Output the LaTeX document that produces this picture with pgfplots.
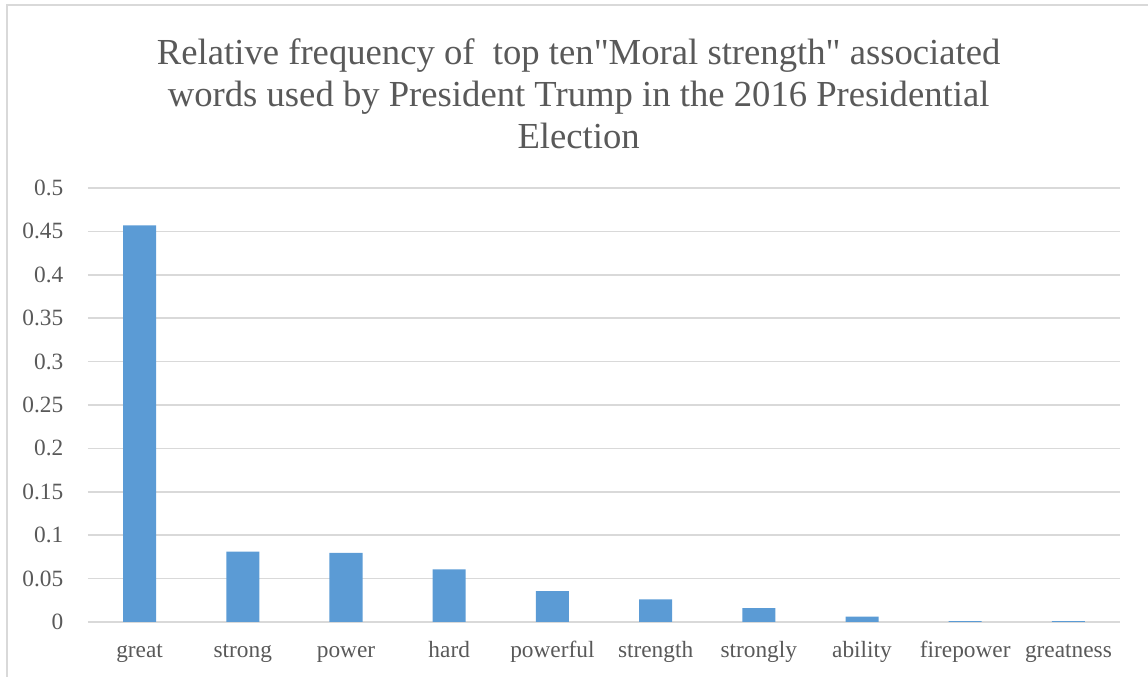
\documentclass[border=0pt]{standalone}
\usepackage{fontspec}
\setmainfont{Liberation Serif}
\usepackage{pgfplots}
\pgfplotsset{compat=1.18}
\definecolor{barblue}{HTML}{5B9BD5}
\definecolor{txtgray}{HTML}{595959}
\definecolor{gridgray}{HTML}{D9D9D9}
\newcommand{\sq}{{\fontspec{Liberation Serif}\symbol{34}}}
\begin{document}
\begin{tikzpicture}
\path[use as bounding box] (-66pt,-41.25pt) rectangle (795pt,466.5pt);
\draw[gridgray, line width=1.2pt] (-60.75pt,-41.25pt) -- (-60.75pt,462.75pt) -- (795pt,462.75pt);
\begin{axis}[
  at={(0,0)}, anchor=south west,
  width=774pt, height=325.5pt, scale only axis,
  xmin=-0.5, xmax=9.5, ymin=0, ymax=0.5,
  xtick={0,1,2,3,4,5,6,7,8,9},
  xticklabels={great,strong,power,hard,powerful,strength,strongly,ability,firepower,greatness},
  ytick={0,0.05,0.1,0.15,0.2,0.25,0.3,0.35,0.4,0.45,0.5},
  yticklabels={0,0.05,0.1,0.15,0.2,0.25,0.3,0.35,0.4,0.45,0.5},
  ymajorgrids, grid style={gridgray, line width=1.1pt},
  axis line style={draw=none},
  major tick length=0pt,
  tick label style={font=\fontsize{17.5}{20}\selectfont, text=txtgray},
  yticklabel style={anchor=east, xshift=-15pt},
  xticklabel style={anchor=base, yshift=-27pt},
  clip=false,
]
\addplot[ybar, fill=barblue, draw=none, bar width=0.32] coordinates {
(0,0.457) (1,0.081) (2,0.0795) (3,0.0606) (4,0.0356) (5,0.026) (6,0.0159) (7,0.0062) (8,0.0009) (9,0.0009)
};
\end{axis}
\node[align=center, text=txtgray, font=\fontsize{27.5}{31.5}\selectfont] at (368pt,396pt)
  {Relative frequency of\ \ top ten\sq Moral strength\sq{} associated\\words used by President Trump in the 2016 Presidential\\Election};
\end{tikzpicture}
\end{document}
